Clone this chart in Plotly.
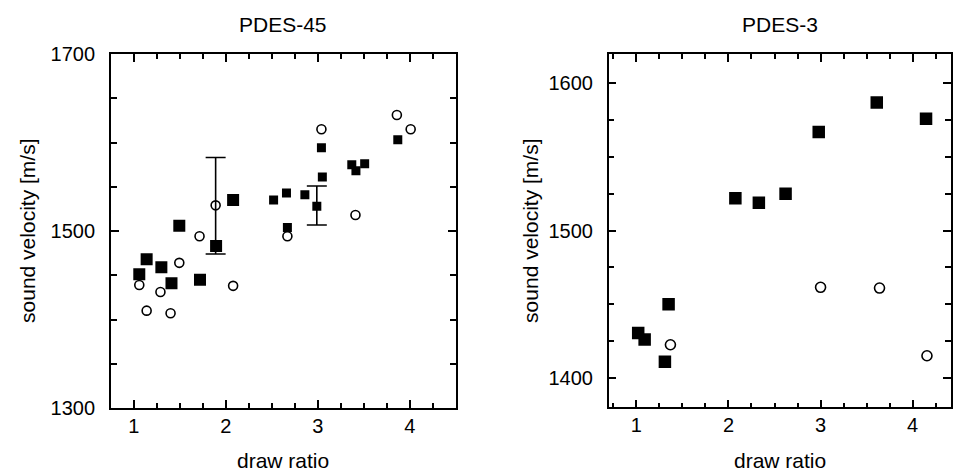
import plotly.graph_objects as go

# ---------------- data ----------------
# PDES-45 (left panel)
p45_big_sq_x = [1.06, 1.14, 1.30, 1.41, 1.495, 1.72, 1.895, 2.08]
p45_big_sq_y = [1451, 1468, 1459, 1441, 1506, 1445, 1483, 1535]
p45_small_sq_x = [2.52, 2.66, 2.67, 2.86, 2.99, 3.04, 3.05, 3.37, 3.415, 3.51, 3.87]
p45_small_sq_y = [1535, 1543, 1504, 1541, 1528, 1594, 1561, 1575, 1568, 1576, 1603]
p45_open_x = [1.06, 1.14, 1.29, 1.40, 1.495, 1.715, 1.89, 2.08, 2.67, 3.04, 3.41, 3.86, 4.01]
p45_open_y = [1439, 1410, 1431, 1407, 1464, 1494, 1529, 1438, 1494, 1615, 1518, 1631, 1615]
p45_err_x = [1.89, 2.99]
p45_err_y = [1528.5, 1528.8]
p45_err = [54.5, 22.0]

# PDES-3 (right panel)
p3_sq_x = [1.02, 1.09, 1.31, 1.35, 2.075, 2.33, 2.62, 2.98, 3.61, 4.145]
p3_sq_y = [1430.5, 1426, 1411, 1450, 1522, 1519, 1525, 1567, 1587, 1576]
p3_open_x = [1.37, 3.00, 3.64, 4.155]
p3_open_y = [1422.5, 1461.5, 1461, 1415]

titles = ["PDES-45", "PDES-3"]
x_title = "draw ratio"
y_title = "sound velocity [m/s]"

# ---------------- figure ----------------
W, H = 953, 472
ML, MR, MT, MB = 0, 0, 54, 64
FONT = "Liberation Sans, Arial, Helvetica, sans-serif"

fig = go.Figure()

sq_big = dict(symbol="square", size=12, color="black", line=dict(width=0))
sq_small = dict(symbol="square", size=9, color="black", line=dict(width=0))
circ = dict(symbol="circle-open", size=9, color="black", line=dict(width=1.6, color="black"))

fig.add_trace(go.Scatter(x=p45_err_x, y=p45_err_y, mode="markers",
                         marker=dict(size=1, color="rgba(0,0,0,0)"),
                         error_y=dict(type="data", array=p45_err, visible=True,
                                      color="black", thickness=1.6, width=10),
                         xaxis="x", yaxis="y", showlegend=False, hoverinfo="skip"))
fig.add_trace(go.Scatter(x=p45_open_x, y=p45_open_y, mode="markers", marker=circ,
                         xaxis="x", yaxis="y", showlegend=False))
fig.add_trace(go.Scatter(x=p45_big_sq_x, y=p45_big_sq_y, mode="markers", marker=sq_big,
                         xaxis="x", yaxis="y", showlegend=False))
fig.add_trace(go.Scatter(x=p45_small_sq_x, y=p45_small_sq_y, mode="markers", marker=sq_small,
                         xaxis="x", yaxis="y", showlegend=False))

fig.add_trace(go.Scatter(x=p3_open_x, y=p3_open_y, mode="markers",
                         marker=dict(circ, size=10),
                         xaxis="x2", yaxis="y2", showlegend=False))
fig.add_trace(go.Scatter(x=p3_sq_x, y=p3_sq_y, mode="markers",
                         marker=dict(sq_big, size=12.5),
                         xaxis="x2", yaxis="y2", showlegend=False))

pw = W - ML - MR
left_dom = [111 / pw, 456.7 / pw]
right_dom = [610 / pw, 1.0]

common_axis = dict(showline=True, linecolor="black", linewidth=1.5, mirror="ticks",
                   ticks="inside", ticklen=8, tickwidth=1.5, tickcolor="black",
                   showgrid=False, zeroline=False,
                   tickfont=dict(family=FONT, size=20, color="black"))

xminor = dict(dtick=0.25, tick0=1, ticks="inside", ticklen=5, tickwidth=1.5, tickcolor="black")

fig.update_layout(
    width=W, height=H,
    margin=dict(l=ML, r=MR, t=MT, b=MB),
    paper_bgcolor="white", plot_bgcolor="white",
    font=dict(family=FONT, color="black"),
    xaxis=dict(common_axis, domain=left_dom, range=[0.75, 4.5], tick0=1, dtick=1,
               minor=xminor, ticklabelstandoff=-1, anchor="y"),
    yaxis=dict(common_axis, domain=[0, 1], range=[1300, 1700], tick0=1300, dtick=200,
               minor=dict(dtick=50, tick0=1300, ticks="inside", ticklen=6, tickwidth=1.5,
                          tickcolor="black"),
               ticklabelstandoff=10, anchor="x"),
    xaxis2=dict(common_axis, domain=right_dom, range=[0.70, 4.416], tick0=1, dtick=1,
                minor=xminor, ticklabelstandoff=-1, anchor="y2"),
    yaxis2=dict(common_axis, domain=[0.002, 1], range=[1380, 1620], tick0=1400, dtick=100,
                minor=dict(dtick=25, tick0=1400, ticks="inside", ticklen=6, tickwidth=1.5,
                           tickcolor="black"),
                ticklabelstandoff=10, anchor="x2"),
)

ph = H - MT - MB


def py(pix):
    return (H - MB - pix) / ph


def px(pix):
    return (pix - ML) / pw


ann = []
# panel titles
ann.append(dict(text=titles[0], x=px(284), y=py(24.5)))
ann.append(dict(text=titles[1], x=px(782), y=py(24.5)))
# x titles
ann.append(dict(text=x_title, x=px(284), y=py(460)))
ann.append(dict(text=x_title, x=px(782), y=py(460)))
# y titles
ann.append(dict(text=y_title, x=px(27), y=py(231), textangle=-90))
ann.append(dict(text=y_title, x=px(531), y=py(231), textangle=-90))

for a in ann:
    a.update(xref="paper", yref="paper", showarrow=False, xanchor="center", yanchor="middle",
             font=dict(family=FONT, size=21, color="black"))
fig.update_layout(annotations=ann)

fig.write_html("out.html")
